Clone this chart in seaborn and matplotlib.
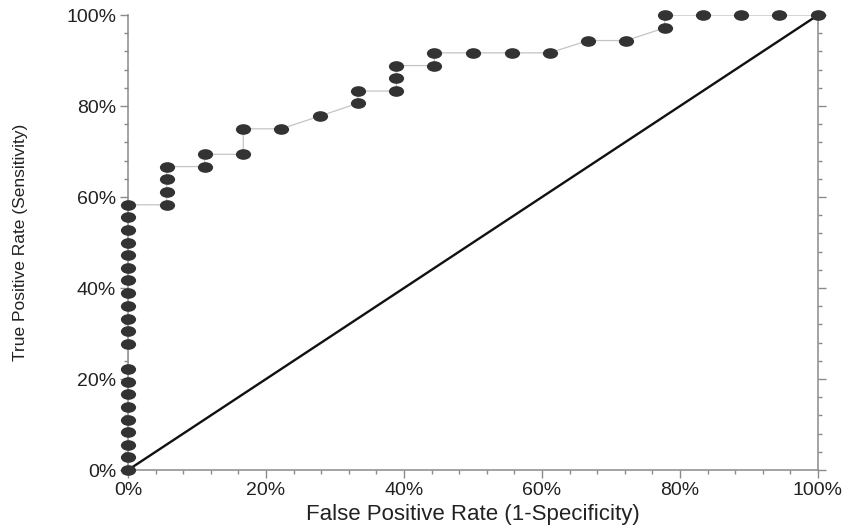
import seaborn as sns
import pandas as pd
import matplotlib.pyplot as plt
from matplotlib.path import Path
from matplotlib.transforms import Affine2D
from matplotlib.ticker import MultipleLocator, FuncFormatter

# ROC points (percent)
fpr = [0, 0, 0, 0, 0, 0, 0, 0, 0,
       0, 0, 0, 0, 0, 0, 0, 0, 0, 0, 0, 0,
       5.6, 5.6, 5.6, 5.6,
       11.1, 11.1,
       16.7, 16.7,
       22.2,
       27.8,
       33.3, 33.3,
       38.9, 38.9, 38.9,
       44.4, 44.4,
       50.0, 55.6, 61.1,
       66.7, 72.2,
       77.8, 77.8,
       83.3, 88.9, 94.4, 100.0]
tpr = [0, 2.8, 5.6, 8.3, 11.1, 13.9, 16.7, 19.4, 22.2,
       27.8, 30.6, 33.3, 36.1, 38.9, 41.7, 44.4, 47.2, 50.0, 52.8, 55.6, 58.3,
       58.3, 61.1, 63.9, 66.7,
       66.7, 69.4,
       69.4, 75.0,
       75.0,
       77.8,
       80.6, 83.3,
       83.3, 86.1, 88.9,
       88.9, 91.7,
       91.7, 91.7, 91.7,
       94.4, 94.4,
       97.2, 100.0,
       100.0, 100.0, 100.0, 100.0]
chance_x = [0, 100]
chance_y = [0, 100]

df = pd.DataFrame({'fpr': fpr, 'tpr': tpr})
diag = pd.DataFrame({'x': chance_x, 'y': chance_y})

sns.set_style('ticks')
plt.rcParams['font.family'] = ['Liberation Sans', 'DejaVu Sans']

fig = plt.figure(figsize=(8.45, 5.29), dpi=100)
ax = fig.add_axes([0.1515, 0.1115, 0.8165, 0.86])

# gray connecting line, in ROC order
sns.lineplot(data=df, x='fpr', y='tpr', sort=False, estimator=None,
             color='#c4c4c4', linewidth=0.9, ax=ax, zorder=2)

# chance line
sns.lineplot(data=diag, x='x', y='y', color='#111111', linewidth=1.7,
             ax=ax, zorder=3)

# elliptical markers
ellipse = Path.unit_circle().transformed(Affine2D().scale(1.0, 0.7))
sns.scatterplot(data=df, x='fpr', y='tpr', marker=ellipse, s=120,
                color='#333333', linewidth=0, ax=ax, zorder=4, clip_on=False)

ax.set_xlim(0, 100)
ax.set_ylim(0, 100)
ax.xaxis.set_major_locator(MultipleLocator(20))
ax.yaxis.set_major_locator(MultipleLocator(20))
ax.xaxis.set_minor_locator(MultipleLocator(4))
ax.yaxis.set_minor_locator(MultipleLocator(4))
pct = FuncFormatter(lambda v, pos: '%d%%' % v)
ax.xaxis.set_major_formatter(pct)
ax.yaxis.set_major_formatter(pct)

for side in ['left', 'bottom', 'right']:
    ax.spines[side].set_color('#8a8a8a')
    ax.spines[side].set_linewidth(1.1)
ax.spines['top'].set_visible(False)

ax.tick_params(axis='both', which='major', length=5.5, width=1, color='#8a8a8a',
               labelsize=14, labelcolor='#222222', pad=3)
ax.tick_params(axis='both', which='minor', length=3, width=1, color='#8a8a8a')
ax.tick_params(axis='y', which='both', right=True, labelright=False)

ax.set_xlabel('False Positive Rate (1-Specificity)', fontsize=16,
              color='#222222', labelpad=4)
ax.set_ylabel('True Positive Rate (Sensitivity)', fontsize=12.5,
              color='#222222')
ax.yaxis.set_label_coords(-0.145, 0.5)

plt.savefig('out.png', dpi=100)
